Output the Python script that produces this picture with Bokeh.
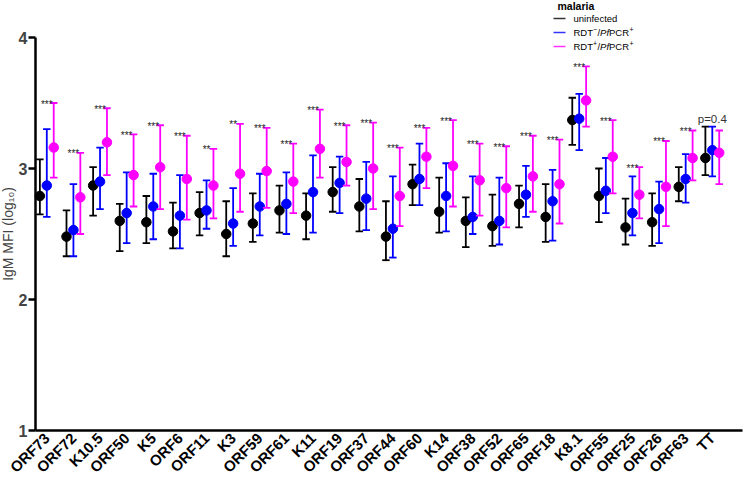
import math
from bokeh.plotting import figure
from bokeh.models import Range1d, FixedTicker, ColumnDataSource
from bokeh.embed import file_html
from bokeh.resources import INLINE
from bokeh.core.properties import value

# ---------------- data ----------------
antigens = ["ORF73", "ORF72", "K10.5", "ORF50", "K5", "ORF6", "ORF11", "K3", "ORF59",
            "ORF61", "K11", "ORF19", "ORF37", "ORF44", "ORF60", "K14", "ORF38", "ORF52",
            "ORF65", "ORF18", "K8.1", "ORF55", "ORF25", "ORF26", "ORF63", "TT"]

uninf_mean = [2.79, 2.48, 2.87, 2.60, 2.59, 2.52, 2.66, 2.50, 2.58, 2.68, 2.64, 2.82, 2.71,
              2.48, 2.88, 2.67, 2.60, 2.56, 2.73, 2.63, 3.37, 2.79, 2.55, 2.59, 2.86, 3.08]
uninf_lo = [2.65, 2.33, 2.64, 2.37, 2.43, 2.39, 2.49, 2.33, 2.44, 2.51, 2.46, 2.67, 2.52,
            2.30, 2.72, 2.51, 2.40, 2.41, 2.55, 2.44, 3.18, 2.59, 2.42, 2.41, 2.75, 2.95]
uninf_hi = [3.07, 2.68, 3.01, 2.73, 2.79, 2.74, 2.82, 2.75, 2.81, 2.87, 2.81, 3.01, 2.92,
            2.75, 3.03, 2.93, 2.78, 2.80, 2.87, 2.88, 3.54, 3.00, 2.77, 2.81, 3.01, 3.32]

neg_mean = [2.87, 2.53, 2.90, 2.66, 2.71, 2.64, 2.68, 2.58, 2.71, 2.73, 2.82, 2.89, 2.77,
            2.54, 2.92, 2.79, 2.63, 2.60, 2.80, 2.75, 3.38, 2.83, 2.66, 2.69, 2.92, 3.14]
neg_lo = [2.63, 2.33, 2.69, 2.43, 2.46, 2.39, 2.54, 2.41, 2.49, 2.50, 2.51, 2.66, 2.53,
          2.32, 2.72, 2.52, 2.50, 2.42, 2.63, 2.45, 3.14, 2.66, 2.49, 2.43, 2.74, 2.94]
neg_hi = [3.30, 2.88, 3.16, 2.97, 2.96, 2.95, 2.91, 2.85, 2.96, 2.97, 3.10, 3.09, 3.05,
          2.94, 3.19, 3.04, 2.94, 2.93, 3.02, 2.99, 3.57, 3.08, 2.94, 2.90, 3.11, 3.32]

pos_mean = [3.16, 2.78, 3.20, 2.95, 3.01, 2.92, 2.87, 2.96, 2.98, 2.90, 3.15, 3.05, 3.00,
            2.79, 3.09, 3.02, 2.91, 2.85, 2.94, 2.88, 3.52, 3.09, 2.80, 2.86, 3.08, 3.12]
pos_lo = [2.93, 2.50, 2.95, 2.71, 2.69, 2.61, 2.62, 2.67, 2.70, 2.66, 2.93, 2.87, 2.69,
          2.56, 2.85, 2.71, 2.64, 2.55, 2.67, 2.58, 3.32, 2.81, 2.62, 2.56, 2.91, 2.88]
pos_hi = [3.50, 3.12, 3.46, 3.26, 3.33, 3.25, 3.15, 3.34, 3.31, 3.19, 3.45, 3.33, 3.35,
          3.16, 3.31, 3.37, 3.19, 3.17, 3.25, 3.22, 3.78, 3.37, 3.01, 3.21, 3.29, 3.29]

signif = ["***", "***", "***", "***", "***", "***", "**", "**", "***", "***", "***", "***",
          "***", "***", "***", "***", "***", "***", "***", "***", "***", "***", "***", "***",
          "***", "p=0.4"]

y_ticks = [1, 2, 3, 4]
legend_title = "malaria"
series_colors = ["#000000", "#0000FF", "#FF00FF"]

FONT = "Liberation Sans"

# ---------------- layout (page pixels -> data) ----------------
W, H = 744, 475
T0 = 2.0            # page y of the canvas top (observed)
L0 = 8.0            # page x of the canvas left
PPU = 131.0         # pixels per log10 unit
Y4_PAGE = 39.0      # page y where value 4 sits
XPX = 26.62         # pixels per category step
X0_PAGE = 54.3      # page x of the first category
AXIS_X_PAGE = 43.0  # page x of the y axis line
AXIS_END_PAGE = 750.0

x_start = (L0 - X0_PAGE) / XPX
x_end = x_start + W / XPX
y_end = 4 + (Y4_PAGE - T0) / PPU
y_start = y_end - H / PPU

def lx(sx):  # page pixel x -> data x
    return x_start + (sx - L0) / XPX

def ly(sy):  # page pixel y -> data y
    return y_end - (sy - T0) / PPU

p = figure(width=W, height=H, output_backend="svg", toolbar_location=None,
           x_range=Range1d(x_start, x_end), y_range=Range1d(y_start, y_end),
           min_border_left=0, min_border_right=0, min_border_top=0, min_border_bottom=0)
p.outline_line_color = None
p.xgrid.grid_line_color = None
p.ygrid.grid_line_color = None
p.background_fill_color = "white"
p.border_fill_color = "white"

# ---------------- marks ----------------
offsets = [-0.26, 0.0, 0.26]
cap = 0.14
groups = list(range(len(antigens)))
all_series = [(uninf_mean, uninf_lo, uninf_hi), (neg_mean, neg_lo, neg_hi),
              (pos_mean, pos_lo, pos_hi)]

for (m, lo, hi), off, col in zip(all_series, offsets, series_colors):
    xs = [g + off for g in groups]
    src = ColumnDataSource(dict(x=xs, m=m, lo=lo, hi=hi,
                                x0=[x - cap for x in xs], x1=[x + cap for x in xs]))
    p.segment(x0="x", y0="lo", x1="x", y1="hi", source=src, line_color=col, line_width=1.8)
    p.segment(x0="x0", y0="hi", x1="x1", y1="hi", source=src, line_color=col, line_width=1.8)
    p.segment(x0="x0", y0="lo", x1="x1", y1="lo", source=src, line_color=col, line_width=1.8)
    p.scatter(x="x", y="m", source=src, size=9.5, fill_color=col, line_color=col)

# significance annotations
top_vals = [max(a, b, c) for a, b, c in zip(uninf_hi, neg_hi, pos_hi)]
star_idx = [i for i, s in enumerate(signif) if s != "p=0.4"]
p_idx = [i for i, s in enumerate(signif) if s == "p=0.4"]
p.text(x=[groups[i] for i in star_idx], y=[top_vals[i] for i in star_idx],
       text=[signif[i] for i in star_idx], text_align="center", text_baseline="alphabetic",
       text_font=value(FONT), text_font_size="10px", text_color="#222222", y_offset=1)
p.text(x=[groups[i] for i in p_idx], y=[top_vals[i] for i in p_idx],
       text=[signif[i] for i in p_idx], text_align="center", text_baseline="alphabetic",
       text_font=value(FONT), text_font_size="11.5px", text_color="#333333", y_offset=-8)

# ---------------- axes (fixed inside the frame) ----------------
xa = p.xaxis[0]
xa.fixed_location = y_ticks[0]
xa.bounds = (lx(AXIS_X_PAGE), lx(AXIS_END_PAGE))
xa.ticker = FixedTicker(ticks=groups)
xa.major_label_overrides = {g: name for g, name in zip(groups, antigens)}
xa.major_label_orientation = math.pi / 4
xa.major_label_text_font = FONT
xa.major_label_text_font_style = "bold"
xa.major_label_text_font_size = "15px"
xa.major_label_text_color = "black"
xa.major_label_standoff = 5
xa.major_tick_out = 0
xa.major_tick_in = 0
xa.major_tick_line_color = None
xa.minor_tick_line_color = None
xa.axis_line_width = 2.5
xa.axis_line_color = "black"

ya = p.yaxis[0]
ya.fixed_location = lx(AXIS_X_PAGE)
ya.ticker = FixedTicker(ticks=y_ticks)
ya.bounds = (y_ticks[0], y_ticks[-1])
ya.major_tick_out = 7
ya.major_tick_in = 0
ya.major_tick_line_width = 2.5
ya.minor_tick_line_color = None
ya.minor_tick_out = 0
ya.axis_line_width = 2.5
ya.major_label_text_font = FONT
ya.major_label_text_font_style = "bold"
ya.major_label_text_font_size = "16px"
ya.major_label_standoff = 1
ya.axis_label = "IgM MFI (log\u2081\u2080)"
ya.axis_label_text_font = FONT
ya.axis_label_text_font_style = "normal"
ya.axis_label_text_font_size = "14px"
ya.axis_label_standoff = 0

# ---------------- legend (drawn inside the frame) ----------------
FS = 9.5
SUP = 7
p.text(x=[lx(565)], y=[ly(7)], text=[legend_title], text_font=value(FONT),
       text_font_style="bold", text_font_size="10.5px", text_baseline="middle",
       text_color="black")
rows_y = [20, 34, 48]
p.segment(x0=[lx(561)] * 3, x1=[lx(573)] * 3, y0=[ly(r) for r in rows_y],
          y1=[ly(r) for r in rows_y], line_color=series_colors, line_width=1.5, line_alpha=0.8)
p.text(x=[lx(581)], y=[ly(rows_y[0])], text=["uninfected"], text_font=value(FONT),
       text_font_size=f"{FS}px", text_baseline="middle", text_color="black")

# widths in em (Arial / Liberation Sans metrics)
W_RDT = (0.722 + 0.722 + 0.611) * FS
W_SUP = 0.584 * SUP
W_SL = 0.278 * FS
W_PF = (0.667 + 0.278) * FS
W_PCR = (0.667 + 0.722 + 0.722) * FS
for ry, sign in zip(rows_y[1:], ["\u2212", "+"]):
    sx = 581
    pieces = [("RDT", FS, "normal", 0, W_RDT), (sign, SUP, "normal", 3.5, W_SUP + 0.3),
              ("/", FS, "normal", 0, W_SL), ("Pf", FS, "italic", 0, W_PF),
              ("PCR", FS, "normal", 0, W_PCR + 0.3), ("+", SUP, "normal", 3.5, W_SUP)]
    for txt, fs, style, rise, w in pieces:
        p.text(x=[lx(sx)], y=[ly(ry - rise)], text=[txt], text_font=value(FONT),
               text_font_size=f"{fs}px", text_font_style=style,
               text_baseline="middle", text_color="black")
        sx += w

open("out.html", "w").write(file_html(p, INLINE))
